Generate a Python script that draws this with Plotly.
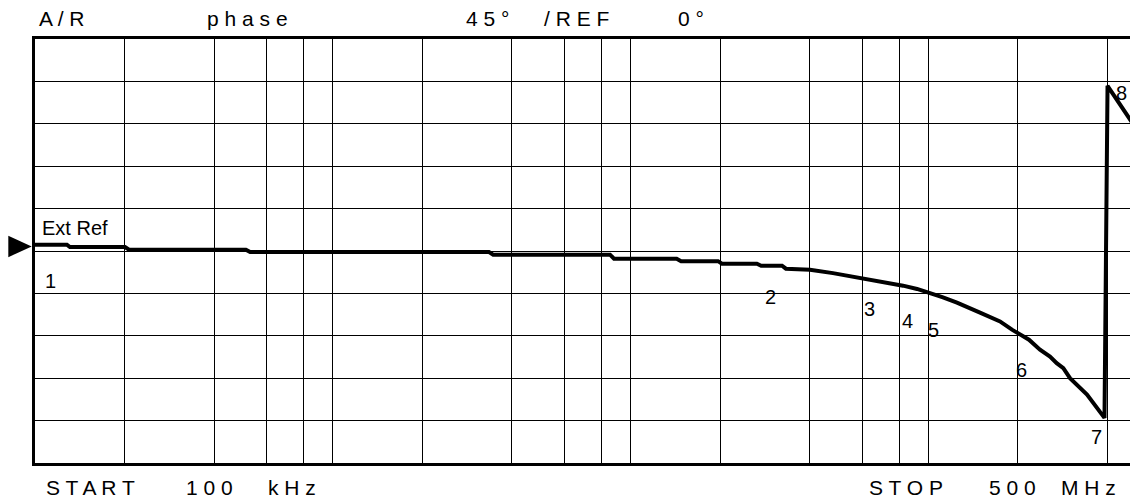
import plotly.graph_objects as go
import math

# ---- data ----
freq_mhz = [0.1, 0.128, 0.131, 0.2006, 0.207, 0.511, 0.528, 3.35, 3.46, 8.54, 8.81,
            14.3, 14.8, 19.7, 20.3, 26.6, 27.5, 32.3, 33.3, 40.1, 47.9, 54.7, 62.4,
            72.8, 82.4, 91.8, 101.5, 112.2, 125.0, 141.5, 149.4, 174.4, 191.3, 218.2,
            237.6, 256.7, 270.4, 284.6, 299.7, 341.8, 369.4, 391.3, 400.6, 476.7, 500.0]
phase_deg = [6.7, 6.7, 4.2, 4.2, 1.4, 1.4, -1.1, -1.1, -3.9, -3.9, -8.2,
             -8.2, -10.8, -10.8, -13.5, -13.5, -15.6, -15.6, -18.8, -19.8, -23.5, -26.7, -29.7,
             -33.1, -36.8, -40.3, -44.5, -49.2, -54.8, -61.5, -65.4, -74.7, -83.5, -94.1,
             -104.7, -112.0, -119.0, -124.3, -134.9, -152.4, -166.5, -177.1, 175.3, 139.3, 130.0]

grid_freq_mhz = [0.2, 0.4, 0.6, 0.8, 1, 2, 4, 6, 8, 10, 20, 40, 60, 80, 100, 200, 400]
phase_scale = 45          # deg / div
ref_value = 0
n_div = 10
start_mhz = 0.1
stop_mhz = 500

header_texts = ["A / R", "p h a s e", "4 5 °", "/ R E F", "0 °"]
footer_texts = ["S T A R T", "1 0 0", "k H z", "S T O P", "5 0 0", "M H z"]
marker_labels = ["1", "2", "3", "4", "5", "6", "7", "8"]

# ---- layout geometry (pixels) ----
W, H = 1130, 500
L, T, B = 35, 39, 463.3
R = W
decade_px = 297.7
pw = R - L
ph = B - T

def px(x):
    return (x - L) / pw

def py(y):
    return (B - y) / ph

FONT = "Liberation Sans, Arial, sans-serif"

fig = go.Figure()
fig.add_trace(go.Scatter(
    x=[f * 1e6 for f in freq_mhz], y=phase_deg, mode="lines",
    line=dict(color="black", width=4), hoverinfo="skip", showlegend=False))

x_lo = math.log10(start_mhz * 1e6)
x_hi = x_lo + pw / decade_px
half = phase_scale * n_div / 2

fig.update_xaxes(type="log", range=[x_lo, x_hi],
                 tickvals=[f * 1e6 for f in grid_freq_mhz], showticklabels=False, ticks="",
                 showgrid=True, gridcolor="black", gridwidth=1,
                 showline=True, linecolor="black", linewidth=3, mirror=True, zeroline=False)
fig.update_yaxes(range=[ref_value - half, ref_value + half],
                 tickvals=[ref_value - half + phase_scale * i for i in range(1, n_div)],
                 showticklabels=False, ticks="",
                 showgrid=True, gridcolor="black", gridwidth=1,
                 showline=True, linecolor="black", linewidth=3, mirror=False, zeroline=False)

ann = []
def text(t, x, y, anchor="left", size=20):
    ann.append(dict(text=t, x=px(x), y=py(y), xref="paper", yref="paper",
                    xanchor=anchor, yanchor="middle", showarrow=False,
                    font=dict(family=FONT, size=size, color="black")))

# header
for t, x in zip(header_texts, [37, 205, 464, 542, 676]):
    text(t, x, 18.5, size=21)
# footer
for t, x in zip(footer_texts, [44, 184, 266, 867, 987, 1059]):
    text(t, x, 488, size=21)
# reference label + markers
text("Ext Ref", 40, 228.5, size=20)
marker_pos = [(50, 281), (770.5, 297), (869, 309.5), (908, 321.5), (933, 330),
              (1021, 370), (1096, 437), (1121, 93)]
for lab, (x, y) in zip(marker_labels, marker_pos):
    text(lab, x, y, anchor="center", size=20)

# reference arrow
fig.add_shape(type="path", xref="paper", yref="paper",
              path=f"M {px(8.3)} {py(236)} L {px(31.7)} {py(246.7)} L {px(8.3)} {py(257.3)} Z",
              fillcolor="black", line=dict(color="black", width=0))

fig.update_layout(width=W, height=H, margin=dict(l=L, r=0, t=T, b=H - B),
                  paper_bgcolor="white", plot_bgcolor="white",
                  annotations=ann, showlegend=False)

fig.write_html("out.html", config={"displayModeBar": False},
               post_script="document.body.style.margin='0';document.body.style.overflow='hidden';")
